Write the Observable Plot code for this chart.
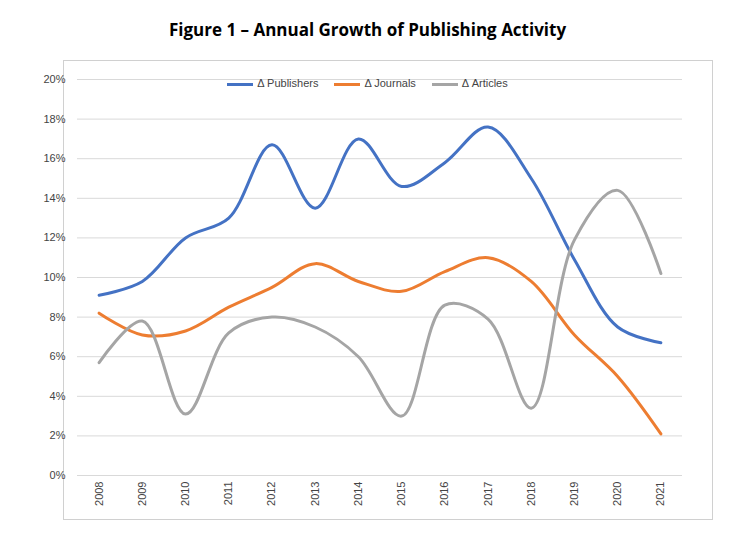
<!DOCTYPE html>
<html><head><meta charset="utf-8">
<script src="https://cdn.jsdelivr.net/npm/d3@7"></script>
<script src="https://cdn.jsdelivr.net/npm/@observablehq/plot@0.6"></script>
<style>
body{margin:0;background:#fff;font-family:"Liberation Sans",Arial,sans-serif;}
#title{position:absolute;left:0;top:18px;width:735px;text-align:center;font-weight:bold;font-size:17px;font-family:"Open Sans",sans-serif;}
#box{position:absolute;left:63px;top:60px;width:650px;height:460px;border:1px solid #d0d0d0;box-sizing:border-box;}
#chart{position:absolute;left:0;top:60px;}
#legend{position:absolute;top:77px;left:0;width:735px;text-align:center;font-size:11px;color:#444;}
#legend span{margin:0 8px;}
#legend i{display:inline-block;width:26px;height:3px;vertical-align:middle;margin-right:4px;}
</style></head><body>
<div id="title">Figure 1 – Annual Growth of Publishing Activity</div>
<div id="box"></div>
<div id="chart"></div>
<div id="legend"></div>
<script>
const years=[2008,2009,2010,2011,2012,2013,2014,2015,2016,2017,2018,2019,2020,2021];
const publishers=[9.1,9.8,12.0,13.0,16.7,13.5,17.0,14.6,15.8,17.6,15.0,10.9,7.5,6.7];
const journals=[8.2,7.1,7.3,8.5,9.5,10.7,9.8,9.3,10.3,11.0,9.8,7.1,5.0,2.1];
const articles=[5.7,7.8,3.1,7.2,8.0,7.5,6.0,3.0,8.6,7.9,3.4,11.9,14.4,10.2];
const seriesNames=["Δ Publishers","Δ Journals","Δ Articles"];
const colors=["#4472c4","#ed7d31","#a5a5a5"];
const yTicks=[0,2,4,6,8,10,12,14,16,18,20];
const vals=[publishers,journals,articles];
const data=[];
seriesNames.forEach((s,i)=>years.forEach((y,j)=>data.push({s,year:y,v:vals[i][j]})));
const plot=Plot.plot({
  width:735,height:482,marginTop:19,marginBottom:67,marginLeft:77,marginRight:53,
  style:{fontFamily:"Liberation Sans, Arial, sans-serif",fontSize:"11px",color:"#444"},
  x:{domain:[2007.5,2021.5]},
  y:{domain:[0,20],axis:null},
  color:{domain:seriesNames,range:colors},
  marks:[
    Plot.ruleY(yTicks,{stroke:"#d9d9d9"}),
    Plot.text(yTicks,{x:2007.5,y:d=>d,text:d=>d+"%",textAnchor:"end",dx:-12,fill:"#444"}),
    Plot.axisX({ticks:years,tickFormat:d=>String(d),tickRotate:-90,tickSize:0,tickPadding:6,label:null,fill:"#444"}),
    Plot.line(data,{x:"year",y:"v",z:"s",stroke:"s",strokeWidth:3,curve:"catmull-rom"})
  ]
});
document.getElementById("chart").appendChild(plot);
document.getElementById("legend").innerHTML=seriesNames.map((s,i)=>`<span><i style="background:${colors[i]}"></i>${s}</span>`).join("");
</script>
</body></html>
